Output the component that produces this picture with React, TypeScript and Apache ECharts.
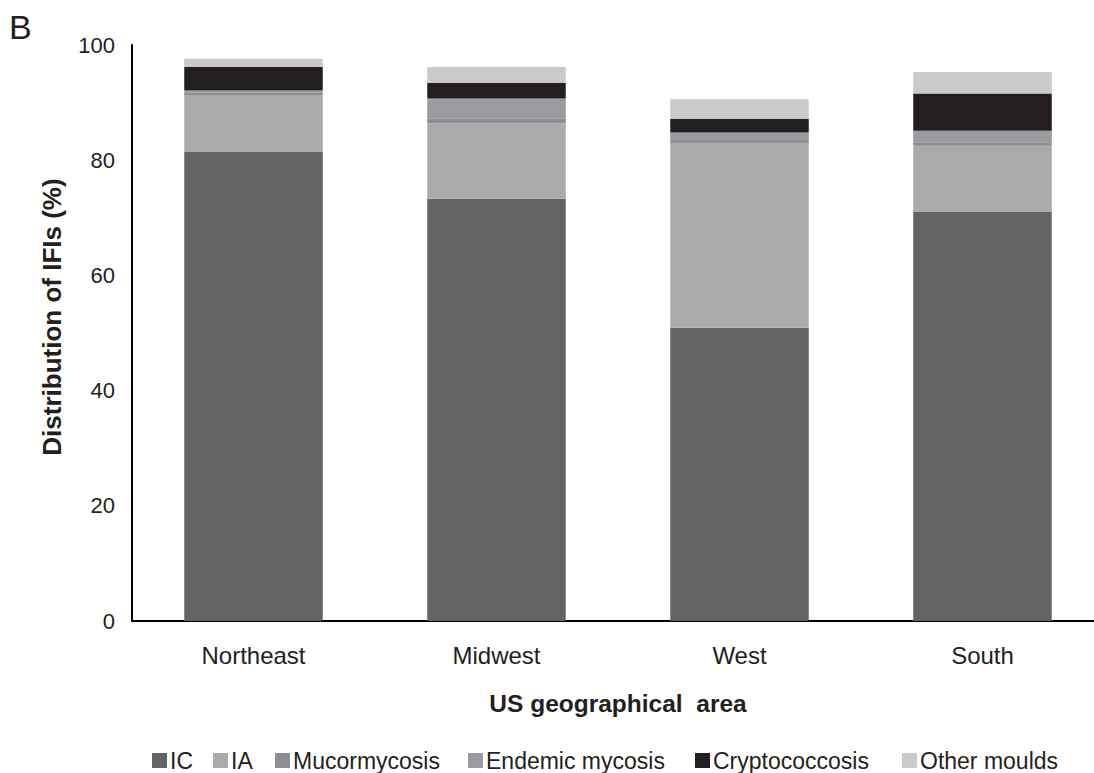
import React, { useEffect, useRef } from "react";
import * as echarts from "echarts";

// US regions on the category axis
const regions = ["Northeast", "Midwest", "West", "South"];

// Share of each invasive fungal infection type per region (%)
const icValues = [81.5, 73.3, 50.9, 71.1];
const iaValues = [9.8, 13.1, 32.1, 11.4];
const mucormycosisValues = [0.4, 0.8, 0.5, 0.6];
const endemicMycosisValues = [0.4, 3.5, 1.3, 2.0];
const cryptococcosisValues = [4.1, 2.7, 2.4, 6.5];
const otherMouldsValues = [1.4, 2.8, 3.4, 3.7];

const seriesNames = ["IC", "IA", "Mucormycosis", "Endemic mycosis", "Cryptococcosis", "Other moulds"];
const seriesColors = ["#646466", "#ababae", "#8d8e92", "#9a9b9f", "#231f20", "#c9cacc"];
const seriesValues = [
  icValues,
  iaValues,
  mucormycosisValues,
  endemicMycosisValues,
  cryptococcosisValues,
  otherMouldsValues,
];

// left edge of each legend swatch, in the order of seriesNames
const legendLefts = [152, 213, 275, 468, 695, 902];

const yTicks = [0, 20, 40, 60, 80, 100];

const FONT = "'Liberation Sans', Arial, Helvetica, sans-serif";
const TEXT = "#231f20";

export default function App() {
  const ref = useRef<HTMLDivElement>(null);

  useEffect(() => {
    if (!ref.current) return;
    const chart = echarts.init(ref.current, undefined, { renderer: "svg" });
    chart.setOption({
      animation: false,
      backgroundColor: "#ffffff",
      textStyle: { fontFamily: FONT, color: TEXT },
      graphic: [
        {
          type: "text",
          left: 9,
          top: 10,
          style: { text: "B", fontSize: 34, fontFamily: FONT, fill: TEXT },
        },
        {
          type: "text",
          x: 52,
          y: 317,
          rotation: Math.PI / 2,
          style: {
            text: "Distribution of IFIs (%)",
            fontSize: 26,
            fontWeight: "bold",
            fontFamily: FONT,
            fill: TEXT,
            align: "center",
            verticalAlign: "middle",
          },
        },
      ],
      grid: { left: 132, top: 45, width: 972, height: 576, containLabel: false },
      legend: seriesNames.map((name, i) => ({
        left: legendLefts[i],
        top: 749,
        padding: 0,
        icon: "rect",
        itemWidth: 15,
        itemHeight: 15,
        textStyle: { fontSize: 23, fontFamily: FONT, color: TEXT, padding: [0, 0, 0, -2] },
        data: [name],
      })),
      xAxis: {
        type: "category",
        data: regions,
        name: "US geographical  area",
        nameLocation: "middle",
        nameGap: 70,
        nameTextStyle: { fontSize: 24.5, fontWeight: "bold", fontFamily: FONT, color: TEXT },
        axisLine: { lineStyle: { color: "#000", width: 2 } },
        axisTick: { show: false },
        axisLabel: { fontSize: 24, color: TEXT, margin: 22, fontFamily: FONT },
      },
      yAxis: {
        type: "value",
        min: yTicks[0],
        max: yTicks[yTicks.length - 1],
        interval: 20,
        axisLine: { show: true, lineStyle: { color: "#000", width: 2 } },
        axisTick: { show: false },
        splitLine: { show: false },
        axisLabel: { fontSize: 22, color: TEXT, margin: 17, fontFamily: FONT },
      },
      series: seriesNames.map((name, i) => ({
        name,
        type: "bar",
        stack: "total",
        barWidth: "57%",
        itemStyle: { color: seriesColors[i] },
        data: seriesValues[i],
      })),
    });
    return () => chart.dispose();
  }, []);

  // the chart is a little wider than the window so the x axis runs off the right edge
  return (
    <div
      ref={ref}
      style={{ position: "fixed", left: 0, top: 0, width: 1112, height: 773, background: "#fff" }}
    />
  );
}
